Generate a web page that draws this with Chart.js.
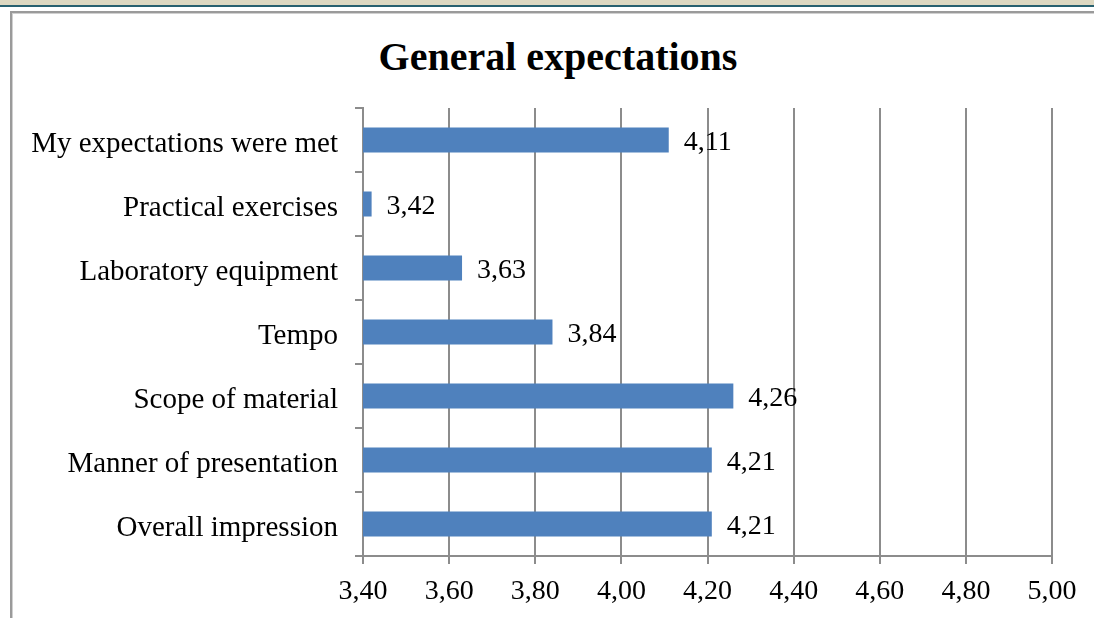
<!DOCTYPE html>
<html>
<head>
<meta charset="utf-8">
<script src="https://cdn.jsdelivr.net/npm/chart.js@4.4.1/dist/chart.umd.min.js"></script>
<style>
  html, body { margin: 0; padding: 0; background: #fff; }
  body { width: 1094px; height: 618px; position: relative; overflow: hidden; }
  .top-band { position: absolute; left: 0; top: 0; width: 100%; height: 5px; background: #ddd8c1; }
  .top-rule { position: absolute; left: 0; top: 5px; width: 100%; height: 2px; background: #28606f; }
  .chart-frame {
    position: absolute; left: 10px; top: 11px; width: 1200px; height: 700px;
    border: 2px solid #9a9a9a; box-shadow: inset 1px 1px 0 #d0d0d0;
  }
  .chart-title {
    position: absolute; left: 0; top: 37px; width: 1116px; text-align: center;
    font: bold 40px/40px 'Liberation Serif', 'Times New Roman', serif; color: #000;
  }
  #expectationsChart { position: absolute; left: 0; top: 0; }
</style>
</head>
<body>
<div class="top-band"></div>
<div class="top-rule"></div>
<div class="chart-frame"></div>
<div class="chart-title" id="chartTitle"></div>
<canvas id="expectationsChart" width="1094" height="618"></canvas>
<script>
const chartTitle = "General expectations";
const categories = [
  "My expectations were met",
  "Practical exercises",
  "Laboratory equipment",
  "Tempo",
  "Scope of material",
  "Manner of presentation",
  "Overall impression",
];
const scores = [4.11, 3.42, 3.63, 3.84, 4.26, 4.21, 4.21];
const axisMin = 3.4;
const axisMax = 5.0;
const axisStep = 0.2;

const fontFamily = "'Liberation Serif', 'Times New Roman', serif";
const fontSize = 28;
const gridColor = "#8c8c8c";
const barColor = "#4f81bd";

const formatComma = (value) => Number(value).toFixed(2).replace(".", ",");

document.getElementById("chartTitle").textContent = chartTitle;

const valueLabelPlugin = {
  id: "valueLabels",
  afterDatasetsDraw(chart) {
    const { ctx } = chart;
    const meta = chart.getDatasetMeta(0);
    ctx.save();
    ctx.font = `${fontSize}px ${fontFamily}`;
    ctx.fillStyle = "#000";
    ctx.textAlign = "left";
    ctx.textBaseline = "middle";
    meta.data.forEach((bar, i) => {
      ctx.fillText(formatComma(scores[i]), bar.x + 15, bar.y + 3);
    });
    ctx.restore();
  },
};

new Chart(document.getElementById("expectationsChart"), {
  type: "bar",
  data: {
    labels: categories,
    datasets: [
      {
        data: scores,
        backgroundColor: barColor,
        borderWidth: 0,
        categoryPercentage: 1,
        barPercentage: 0.39,
      },
    ],
  },
  options: {
    indexAxis: "y",
    responsive: false,
    animation: false,
    layout: { padding: { top: 108, right: 42, bottom: 0, left: 0 } },
    plugins: {
      legend: { display: false },
      tooltip: { enabled: false },
      title: { display: false },
    },
    scales: {
      x: {
        min: axisMin,
        max: axisMax,
        afterFit: (scale) => { scale.height = 62; },
        ticks: {
          stepSize: axisStep,
          color: "#000",
          padding: 11,
          font: { family: fontFamily, size: fontSize },
          callback: (value) => formatComma(value),
        },
        grid: { color: gridColor, lineWidth: 2, tickLength: 8 },
        border: { color: gridColor, width: 2 },
      },
      y: {
        afterFit: (scale) => { scale.width = 363; },
        ticks: {
          color: "#000",
          padding: 17,
          labelOffset: 4,
          font: { family: fontFamily, size: 29 },
        },
        grid: { drawOnChartArea: false, color: gridColor, lineWidth: 2, tickLength: 8, offset: true },
        border: { color: gridColor, width: 2 },
      },
    },
  },
  plugins: [valueLabelPlugin],
});
</script>
</body>
</html>
